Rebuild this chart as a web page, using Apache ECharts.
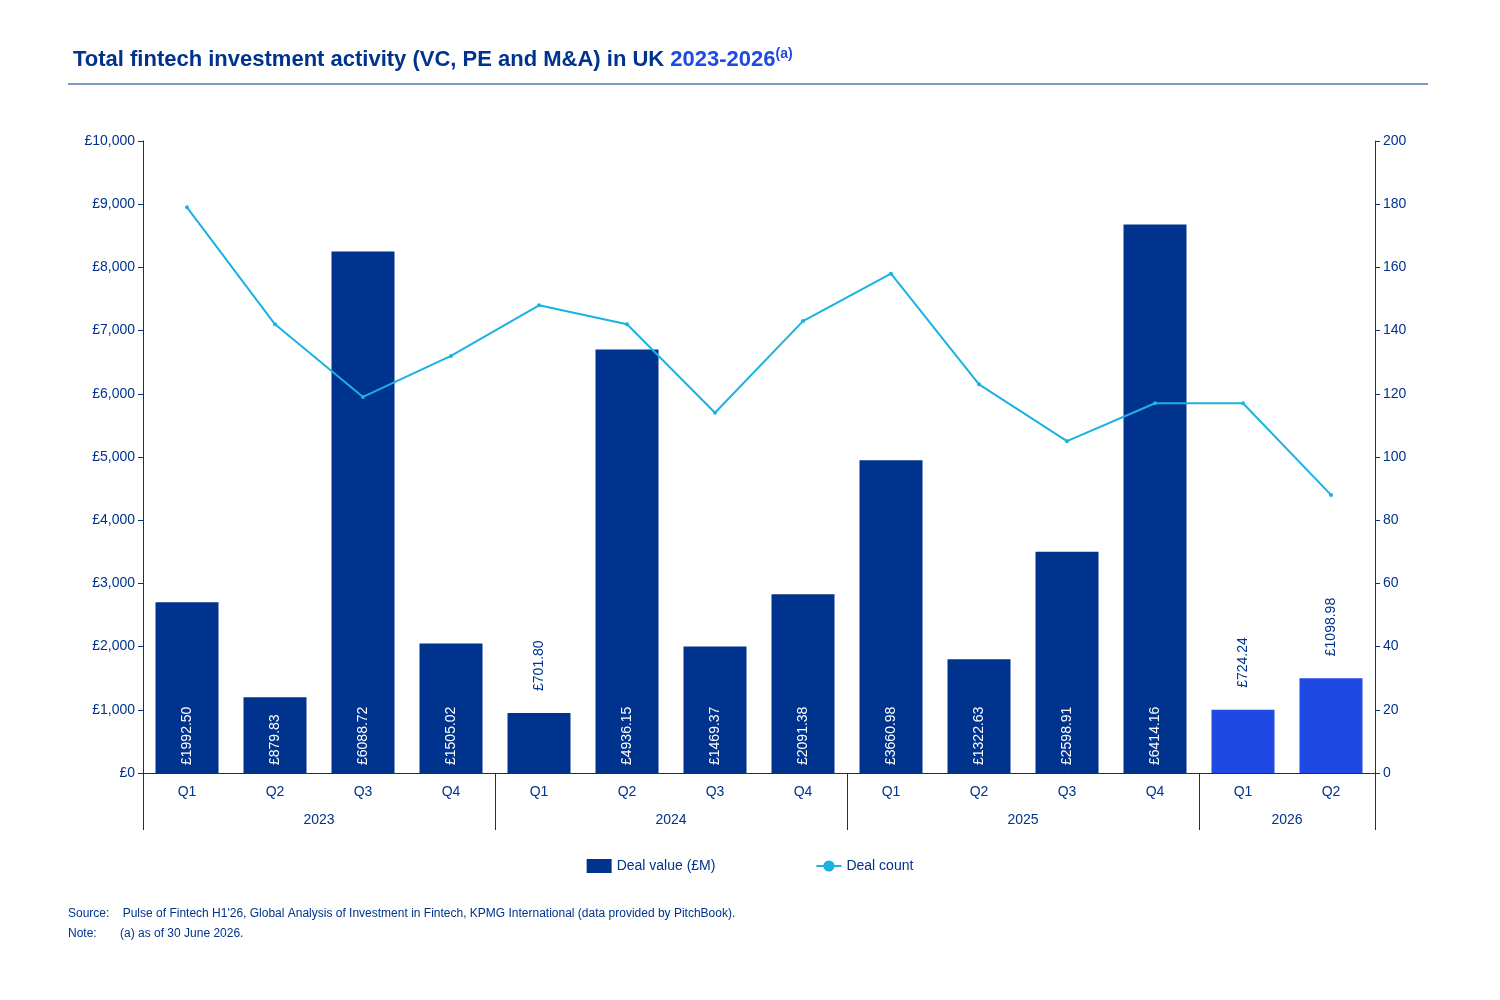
<!DOCTYPE html>
<html><head><meta charset="utf-8">
<script src="https://cdn.jsdelivr.net/npm/echarts@6/dist/echarts.min.js"></script>
<style>body{margin:0}#c{width:1500px;height:1000px}</style></head>
<body><div id="c"></div>
<script>
var quarters = ['Q1','Q2','Q3','Q4','Q1','Q2','Q3','Q4','Q1','Q2','Q3','Q4','Q1','Q2'];
var years = ['2023','2024','2025','2026'];
var yearCenters = [2, 6, 10, 13];
var yearBounds = [0, 4, 8, 12, 14];
var dealValue = [2700,1200,8250,2050,950,6700,2000,2830,4950,1800,3500,8680,1000,1500];
var valueLabels = ['£1992.50','£879.83','£6088.72','£1505.02','£701.80','£4936.15','£1469.37','£2091.38','£3660.98','£1322.63','£2598.91','£6414.16','£724.24','£1098.98'];
var dealCount = [179,142,119,132,148,142,114,143,158,123,105,117,117,88];
var outsideLabel = [4, 12, 13];

var navy = '#00338D', blue = '#1E49E2', cyan = '#1AB2E2';
var font = 'Arial, "Liberation Sans", sans-serif';

var barData = dealValue.map(function(v, i) {
    var o = outsideLabel.indexOf(i) >= 0;
    return {
        value: v,
        itemStyle: {color: i >= 12 ? blue : navy},
        label: o ? {position: 'top', color: navy, align: 'left', distance: 22} : {}
    };
});

var chart = echarts.init(document.getElementById('c'));
chart.setOption({
    textStyle: {fontFamily: font},
    title: {
        left: 68, top: 42,
        text: '{a|Total fintech investment activity (VC, PE and M&A) in UK }{b|2023-2026}{c|(a)}',
        textStyle: {rich: {
            a: {fontSize: 22, fontWeight: 'bold', color: navy, fontFamily: font},
            b: {fontSize: 22, fontWeight: 'bold', color: blue, fontFamily: font},
            c: {fontSize: 14, color: blue, fontFamily: font, verticalAlign: 'top', padding: [0, 0, 12, 0]}
        }}
    },
    graphic: [
        {type: 'line', shape: {x1: 68, y1: 84, x2: 1428, y2: 84}, style: {stroke: navy, lineWidth: 1}},
        {type: 'text', left: 68, top: 908, style: {text: 'Source:    Pulse of Fintech H1\'26, Global Analysis of Investment in Fintech, KPMG International (data provided by PitchBook).', fill: navy, font: '12px ' + font}},
        {type: 'text', left: 68, top: 928, style: {text: 'Note:       (a) as of 30 June 2026.', fill: navy, font: '12px ' + font}}
    ],
    legend: {
        bottom: 122, left: 'center', itemGap: 100,
        textStyle: {color: navy, fontSize: 14},
        data: [{name: 'Deal value (£M)', icon: 'rect'}, {name: 'Deal count'}]
    },
    grid: {left: 143, right: 125, top: 141, bottom: 227},
    xAxis: [{
        type: 'category', data: quarters,
        axisLine: {lineStyle: {color: navy}},
        axisTick: {length: 29, lineStyle: {color: navy}},
        axisLabel: {color: navy, fontSize: 14, margin: 12}
    }, {
        type: 'value', min: 0, max: 14, position: 'bottom',
        axisLine: {show: false}, splitLine: {show: false},
        axisTick: {show: true, length: 57, customValues: yearBounds, lineStyle: {color: navy}},
        axisLabel: {customValues: yearCenters, color: navy, fontSize: 14, margin: 40,
            formatter: function(v) { return years[yearCenters.indexOf(v)]; }}
    }],
    yAxis: [{
        type: 'value', min: 0, max: 10000, interval: 1000,
        axisLine: {show: true, lineStyle: {color: navy}},
        axisTick: {show: true, length: 5, lineStyle: {color: navy}},
        splitLine: {show: false},
        axisLabel: {color: navy, fontSize: 14, formatter: function(v) { return '£' + v.toLocaleString('en-US'); }}
    }, {
        type: 'value', min: 0, max: 200, interval: 20,
        axisLine: {show: true, lineStyle: {color: navy}},
        axisTick: {show: true, length: 5, lineStyle: {color: navy}},
        splitLine: {show: false},
        axisLabel: {color: navy, fontSize: 14}
    }],
    series: [{
        name: 'Deal value (£M)', type: 'bar', data: barData, barWidth: 63,
        itemStyle: {color: navy},
        label: {
            show: true, position: 'insideBottom', rotate: 90, align: 'left', verticalAlign: 'middle',
            distance: 8, color: '#fff', fontSize: 14,
            formatter: function(p) { return valueLabels[p.dataIndex]; }
        }
    }, {
        name: 'Deal count', type: 'line', yAxisIndex: 1, data: dealCount,
        color: cyan, symbol: 'circle', symbolSize: 4,
        lineStyle: {width: 2, color: cyan}, itemStyle: {color: cyan}
    }]
});
</script></body></html>
